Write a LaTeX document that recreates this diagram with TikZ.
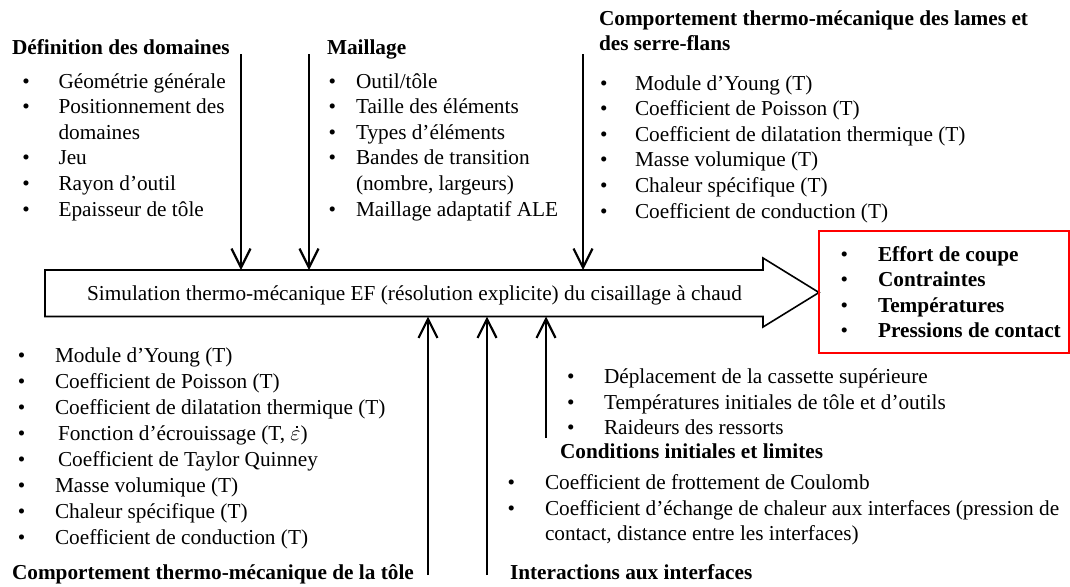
\documentclass[tikz,border=0pt]{standalone}
\usepackage{fontspec}
\setmainfont{Liberation Serif}
\usetikzlibrary{arrows.meta}
\newcommand{\epsdot}{\hbox{$\varepsilon$\llap{\raisebox{0.56em}{\rule{0.95pt}{0.95pt}}\kern0.13em}}}
\begin{document}
\begin{tikzpicture}[x=0.5pt,y=-0.5pt,
  every node/.style={inner sep=0pt, outer sep=0pt, font=\fontsize{10.64}{12.8}\selectfont},
  txt/.style={anchor=base west},
  hd/.style={anchor=base west, font=\fontsize{10.64}{12.8}\selectfont\bfseries},
  bd/.style={anchor=base west, font=\fontsize{10.64}{12.8}\selectfont\bfseries},
  inarrow/.style={line width=1.1pt, -{Straight Barb[length=9.5pt,width=9.5pt,line width=1.1pt]}},
  bigarrow/.style={line width=0.8pt},
  resbox/.style={draw=red, line width=1pt, anchor=north west, minimum width=124.75pt, minimum height=61pt},
]
\useasboundingbox (0,0) rectangle (1070,586);

% main arrow
\draw[bigarrow] (45,270) -- (763,270) -- (763,258) -- (819,292.5) -- (763,327) -- (763,316.5) -- (45,316.5) -- cycle;
\node[anchor=base] (sim) at (414.5,300) {Simulation thermo-mécanique EF (résolution explicite) du cisaillage à chaud};

% result box
\node[resbox] (res) at (819,231) {};
\foreach \t [count=\i from 0] in {Effort de coupe, Contraintes, Températures, Pressions de contact}{
  \node[txt] (rb\i) at (840.5,261.5+25.4*\i) {\textbullet};
  \node[bd] (rt\i) at (878,261.5+25.4*\i) {\t};
}

% coordinates for connectors
\coordinate (d1s) at (241,54);  \coordinate (d1e) at (241,270);
\coordinate (d2s) at (309,54);  \coordinate (d2e) at (309,270);
\coordinate (d3s) at (583,54);  \coordinate (d3e) at (583,270);
\coordinate (u1s) at (428,575); \coordinate (u1e) at (428,316.5);
\coordinate (u2s) at (487,575); \coordinate (u2e) at (487,316.5);
\coordinate (u3s) at (546,438); \coordinate (u3e) at (546,316.5);
\foreach \a in {d1,d2,d3,u1,u2,u3}{\draw[inarrow] (\a s) -- (\a e);}

% Définition des domaines
\node[hd] (h1) at (12,54) {Définition des domaines};
\foreach \y/\t [count=\i] in {88/{Géométrie générale}, 113.6/{Positionnement des}, 164.8/{Jeu}, 190.4/{Rayon d’outil}, 216/{Epaisseur de tôle}}{
  \node[txt] (ab\i) at (22.3,\y) {\textbullet};
  \node[txt] (at\i) at (58.5,\y) {\t};
}
\node[txt] (atc) at (58.5,139.2) {domaines};

% Maillage
\node[hd] (h2) at (327,54) {Maillage};
\foreach \y/\t [count=\i] in {88/{Outil/tôle}, 113.6/{Taille des éléments}, 139.2/{Types d’éléments}, 164.8/{Bandes de transition}, 216/{Maillage adaptatif ALE}}{
  \node[txt] (bb\i) at (328.5,\y) {\textbullet};
  \node[txt] (bt\i) at (356,\y) {\t};
}
\node[txt] (btc) at (356,190.4) {(nombre, largeurs)};

% Comportement lames
\node[hd] (h3a) at (599,25) {Comportement thermo-mécanique des lames et};
\node[hd] (h3b) at (599,50) {des serre-flans};
\foreach \t [count=\i from 0] in {Module d’Young (T), Coefficient de Poisson (T), Coefficient de dilatation thermique (T), Masse volumique (T), Chaleur spécifique (T), Coefficient de conduction (T)}{
  \node[txt] (cb\i) at (600,90+25.6*\i) {\textbullet};
  \node[txt] (ct\i) at (635,90+25.6*\i) {\t};
}

% Comportement tôle
\foreach \t/\x [count=\i from 0] in {Module d’Young (T)/55, Coefficient de Poisson (T)/55, Coefficient de dilatation thermique (T)/55, {Fonction d’écrouissage (T, \epsdot)}/58, Coefficient de Taylor Quinney/58, Masse volumique (T)/55, Chaleur spécifique (T)/55, Coefficient de conduction (T)/55}{
  \node[txt] (eb\i) at (18,362+26*\i) {\textbullet};
  \node[txt] (et\i) at (\x,362+26*\i) {\t};
}
\node[hd] (h4) at (12,579) {Comportement thermo-mécanique de la tôle};

% Conditions initiales et limites
\foreach \t [count=\i from 0] in {Déplacement de la cassette supérieure, Températures initiales de tôle et d’outils, Raideurs des ressorts}{
  \node[txt] (fb\i) at (567,383.5+25.5*\i) {\textbullet};
  \node[txt] (ft\i) at (604,383.5+25.5*\i) {\t};
}
\node[hd] (h5) at (560,458) {Conditions initiales et limites};

% Interactions
\node[txt] (gb0) at (507.5,489) {\textbullet};
\node[txt] (gt0) at (545,489) {Coefficient de frottement de Coulomb};
\node[txt] (gb1) at (507.5,515) {\textbullet};
\node[txt] (gt1) at (545,515) {Coefficient d’échange de chaleur aux interfaces (pression de};
\node[txt] (gtc) at (545,540) {contact, distance entre les interfaces)};
\node[hd] (h6) at (510,579) {Interactions aux interfaces};
\end{tikzpicture}
\end{document}
